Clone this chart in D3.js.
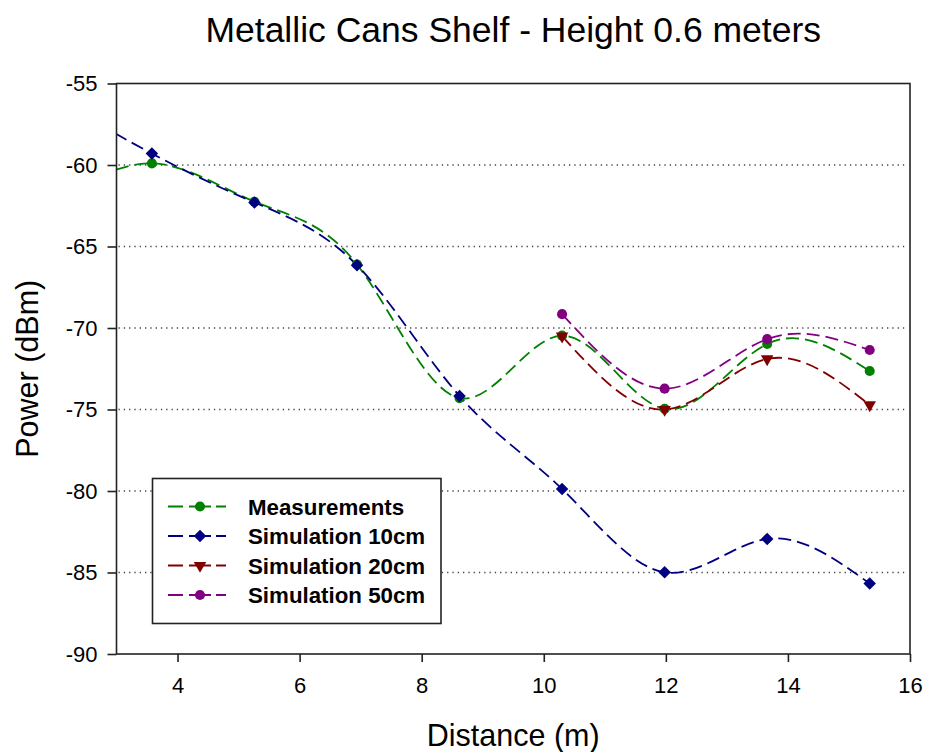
<!DOCTYPE html>
<html>
<head>
<meta charset="utf-8">
<script src="https://cdn.jsdelivr.net/npm/d3@7"></script>
<style>
  html, body { margin: 0; padding: 0; background: #fff; }
  svg { display: block; font-family: "Liberation Sans", Arial, sans-serif; }
</style>
</head>
<body>
<svg id="chart" width="927" height="752"></svg>
<script>
// ---- Data ----
const title = "Metallic Cans Shelf - Height 0.6 meters";
const xLabel = "Distance (m)";
const yLabel = "Power (dBm)";
const xTicks = [4, 6, 8, 10, 12, 14, 16];
const yTicks = [-55, -60, -65, -70, -75, -80, -85, -90];
const gridValues = [-60, -65, -70, -75, -80, -85];

// first x value (1.90) lies left of the visible axis; the curve is clipped there
const distances = [1.90, 3.58, 5.26, 6.94, 8.62, 10.30, 11.98, 13.66, 15.34];
const measurements = [-62.5, -59.9, -62.25, -66.1, -74.3, -70.47, -74.96, -70.98, -72.64];
const sim10 = [-55.7, -59.3, -62.3, -66.15, -74.17, -79.88, -84.99, -82.94, -85.68];
const sim20 = [null, null, null, null, null, -70.5, -75.0, -71.9, -74.72];
const sim50 = [null, null, null, null, null, -69.15, -73.72, -70.68, -71.35];

const seriesNames = ["Measurements", "Simulation 10cm", "Simulation 20cm", "Simulation 50cm"];
const seriesValues = [measurements, sim10, sim20, sim50];
const seriesColors = ["#008000", "#000080", "#800000", "#800080"];
const seriesSymbols = ["circle", "diamond", "triangleDown", "circle"];

// ---- Layout ----
const svg = d3.select("#chart");
const plot = { left: 116.5, right: 910, top: 83.5, bottom: 654 };
const x = d3.scaleLinear().domain([3, 16]).range([plot.left, plot.right]);
const y = d3.scaleLinear().domain([-90, -55]).range([plot.bottom, plot.top]);
const fontFam = '"Liberation Sans", Arial, sans-serif';

// clip path
svg.append("defs").append("clipPath").attr("id", "clip")
  .append("rect")
  .attr("x", plot.left).attr("y", plot.top)
  .attr("width", plot.right - plot.left).attr("height", plot.bottom - plot.top);

// grid lines
svg.append("g").selectAll("line").data(gridValues).join("line")
  .attr("x1", plot.left + 2).attr("x2", plot.right - 2)
  .attr("y1", d => y(d)).attr("y2", d => y(d))
  .attr("stroke", "#444").attr("stroke-width", 1.3)
  .attr("stroke-dasharray", "1.3,4");

// symbols
function symbolPath(type, size) {
  if (type === "circle") return d3.symbol(d3.symbolCircle, size)();
  if (type === "diamond") return d3.symbol(d3.symbolSquare, size)();
  if (type === "triangleDown") return d3.symbol(d3.symbolTriangle, size)();
  return d3.symbol(d3.symbolCircle, size)();
}
function symbolRotate(type) {
  if (type === "diamond") return 45;
  if (type === "triangleDown") return 180;
  return 0;
}
const symbolSizes = { circle: 80, diamond: 78, triangleDown: 68 };

// lines
const line = d3.line()
  .defined(d => d[1] !== null)
  .x(d => x(d[0])).y(d => y(d[1]))
  .curve(d3.curveNatural);

const linesG = svg.append("g").attr("clip-path", "url(#clip)");
seriesValues.forEach((vals, i) => {
  const pts = distances.map((d, j) => [d, vals[j]]).filter(p => p[1] !== null);
  linesG.append("path")
    .attr("d", line(pts))
    .attr("fill", "none")
    .attr("stroke", seriesColors[i])
    .attr("stroke-width", 1.8)
    .attr("stroke-dasharray", "13,6");
});

// markers
const markG = svg.append("g").attr("clip-path", "url(#clip)");
seriesValues.forEach((vals, i) => {
  const pts = distances.map((d, j) => [d, vals[j]]).filter(p => p[1] !== null && p[0] >= 3);
  const t = seriesSymbols[i];
  markG.selectAll(null).data(pts).join("path")
    .attr("d", symbolPath(t, symbolSizes[t]))
    .attr("transform", d => `translate(${x(d[0])},${y(d[1])}) rotate(${symbolRotate(t)})`)
    .attr("fill", seriesColors[i]);
});

// frame
svg.append("rect")
  .attr("x", plot.left).attr("y", plot.top)
  .attr("width", plot.right - plot.left).attr("height", plot.bottom - plot.top)
  .attr("fill", "none").attr("stroke", "#222").attr("stroke-width", 1.6);

// axes
const xAxis = d3.axisBottom(x).tickValues(xTicks).tickSize(8).tickPadding(15).tickFormat(d3.format("d"));
const gx = svg.append("g").attr("transform", `translate(0,${plot.bottom})`).call(xAxis);
gx.select(".domain").remove();
gx.selectAll(".tick line").attr("stroke", "#222").attr("stroke-width", 1.6);
gx.selectAll(".tick text").attr("font-size", 22).attr("font-family", fontFam).attr("fill", "#000");

const yAxis = d3.axisLeft(y).tickValues(yTicks).tickSize(9).tickPadding(10).tickFormat(d3.format("d"));
const gy = svg.append("g").attr("transform", `translate(${plot.left},0)`).call(yAxis);
gy.select(".domain").remove();
gy.selectAll(".tick line").attr("stroke", "#222").attr("stroke-width", 1.6);
gy.selectAll(".tick text").attr("font-size", 22).attr("font-family", fontFam).attr("fill", "#000")
  .text(d => "-" + Math.abs(d));

// title & axis labels
svg.append("text")
  .attr("x", (plot.left + plot.right) / 2).attr("y", 42)
  .attr("text-anchor", "middle").attr("font-size", 35.5).attr("font-family", fontFam)
  .text(title);
svg.append("text")
  .attr("x", (plot.left + plot.right) / 2).attr("y", 746)
  .attr("text-anchor", "middle").attr("font-size", 30.5).attr("font-family", fontFam)
  .text(xLabel);
svg.append("text")
  .attr("transform", `translate(38,${(plot.top + plot.bottom) / 2}) rotate(-90)`)
  .attr("text-anchor", "middle").attr("font-size", 30.5).attr("font-family", fontFam)
  .text(yLabel);

// legend
const legend = { x: 152.5, y: 478.5, w: 288.5, h: 145 };
const lg = svg.append("g");
lg.append("rect")
  .attr("x", legend.x).attr("y", legend.y).attr("width", legend.w).attr("height", legend.h)
  .attr("fill", "#fff").attr("stroke", "#222").attr("stroke-width", 1.6);
seriesNames.forEach((name, i) => {
  const cy = 506.5 + i * 29.5;
  lg.append("line")
    .attr("x1", 168).attr("x2", 226).attr("y1", cy).attr("y2", cy)
    .attr("stroke", seriesColors[i]).attr("stroke-width", 1.8)
    .attr("stroke-dasharray", "15,6,22,5,15");
  const t = seriesSymbols[i];
  lg.append("path")
    .attr("d", symbolPath(t, symbolSizes[t]))
    .attr("transform", `translate(200,${cy}) rotate(${symbolRotate(t)})`)
    .attr("fill", seriesColors[i]);
  lg.append("text")
    .attr("x", 248).attr("y", cy + 8)
    .attr("font-size", 22.3).attr("font-weight", "bold").attr("font-family", fontFam)
    .text(name);
});
</script>
</body>
</html>
